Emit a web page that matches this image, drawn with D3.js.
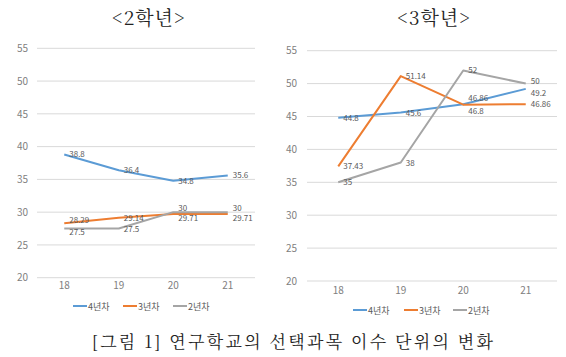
<!DOCTYPE html>
<html><head><meta charset="utf-8">
<script src="https://cdn.jsdelivr.net/npm/d3@7/dist/d3.min.js"></script>
<style>body{margin:0;background:#fff}svg{display:block}</style>
</head><body>
<svg id="c" width="566" height="357"></svg>
<script>
const years = ["18", "19", "20", "21"];
const seriesNames = ["4년차", "3년차", "2년차"];
const grade2_4 = [38.8, 36.4, 34.8, 35.6];
const grade2_3 = [28.29, 29.14, 29.71, 29.71];
const grade2_2 = [27.5, 27.5, 30, 30];
const grade3_4 = [44.8, 45.6, 46.86, 49.2];
const grade3_3 = [37.43, 51.14, 46.8, 46.86];
const grade3_2 = [35, 38, 52, 50];
const yTicks = [20, 25, 30, 35, 40, 45, 50, 55];
const titles = ["<2학년>", "<3학년>"];
const caption = "[그림 1] 연구학교의 선택과목 이수 단위의 변화";

const colors = ["#5B9BD5", "#ED7D31", "#A5A5A5"];
const svg = d3.select("#c");
const font = "'Noto Sans CJK KR', 'Noto Sans', sans-serif";
const serif = "'Noto Serif CJK KR', 'Noto Sans CJK KR', serif";

const panels = [
  {title: titles[0], data: [grade2_4, grade2_3, grade2_2], x0: 37, x1: 255, yTop: 48.3, yBot: 277.7, labelRight: 28, tickY: 288, legendY: 306, legendX: [73, 123, 173], titleX: 148.3},
  {title: titles[1], data: [grade3_4, grade3_3, grade3_2], x0: 307, x1: 557, yTop: 50.7, yBot: 281, labelRight: 297, tickY: 293, legendY: 310, legendX: [353, 404, 453], titleX: 433.5}
];

panels.forEach((p, pi) => {
  const g = svg.append("g");
  const x = d3.scaleBand().domain(years).range([p.x0, p.x1]);
  const y = d3.scaleLinear().domain([20, 55]).range([p.yBot, p.yTop]);
  const cx = d => x(d) + x.bandwidth() / 2;

  g.selectAll("line.grid").data(yTicks).join("line")
    .attr("x1", p.x0).attr("x2", p.x1)
    .attr("y1", d => y(d)).attr("y2", d => y(d))
    .attr("stroke", "#d9d9d9").attr("stroke-width", 1);

  const yAxis = d3.axisLeft(y).tickValues(yTicks).tickSize(0).tickPadding(0);
  const ya = g.append("g").attr("transform", `translate(${p.labelRight},0)`).call(yAxis);
  ya.select(".domain").remove();
  ya.selectAll("text").attr("fill", "#808080").attr("font-size", 10).attr("font-family", font);

  const xAxis = d3.axisBottom(x).tickSize(0).tickPadding(0);
  const xa = g.append("g").attr("transform", `translate(0,${p.tickY - 6})`).call(xAxis);
  xa.select(".domain").remove();
  xa.selectAll("text").attr("fill", "#808080").attr("font-size", 10).attr("font-family", font);

  const line = d3.line().x((d, i) => cx(years[i])).y(d => y(d));
  p.data.forEach((s, si) => {
    g.append("path").datum(s).attr("d", line)
      .attr("fill", "none").attr("stroke", colors[si]).attr("stroke-width", 2)
      .attr("stroke-linejoin", "round");
  });

  p.data.forEach((s, si) => {
    s.forEach((v, i) => {
      let dy = 3;
      if (pi === 0 && i === 0 && si === 1) dy = 0;
      if (pi === 0 && i === 0 && si === 2) dy = 6;
      if (pi === 0 && i >= 2 && si === 2) dy = -1;
      if (pi === 0 && i >= 2 && si === 1) dy = 7;
      if (pi === 1 && i === 2 && si === 0) dy = -3;
      if (pi === 1 && i === 2 && si === 1) dy = 9;
      if (pi === 1 && i === 3 && si === 0) dy = 7;
      if (pi === 1 && i === 3 && si === 2) dy = 0;
      g.append("text").attr("x", cx(years[i]) + 5).attr("y", y(v) + dy)
        .attr("font-size", 8).attr("fill", "#595959").attr("font-family", font)
        .text(v);
    });
  });

  seriesNames.forEach((n, si) => {
    const lx = p.legendX[si];
    g.append("line").attr("x1", lx).attr("x2", lx + 14)
      .attr("y1", p.legendY).attr("y2", p.legendY)
      .attr("stroke", colors[si]).attr("stroke-width", 2);
    g.append("text").attr("x", lx + 15).attr("y", p.legendY + 3.5)
      .attr("font-size", 9).attr("fill", "#595959").attr("font-family", font).text(n);
  });

  svg.append("text").attr("x", p.titleX).attr("y", 25).attr("text-anchor", "middle")
    .attr("font-size", 19).attr("fill", "#222").attr("font-family", serif)
    .attr("textLength", 73).attr("lengthAdjust", "spacing").text(p.title);
});

svg.append("text").attr("x", 292.5).attr("y", 348).attr("text-anchor", "middle")
  .attr("font-size", 17).attr("fill", "#222").attr("font-family", serif)
  .attr("textLength", 401).attr("lengthAdjust", "spacing").text(caption);
</script>
</body></html>
